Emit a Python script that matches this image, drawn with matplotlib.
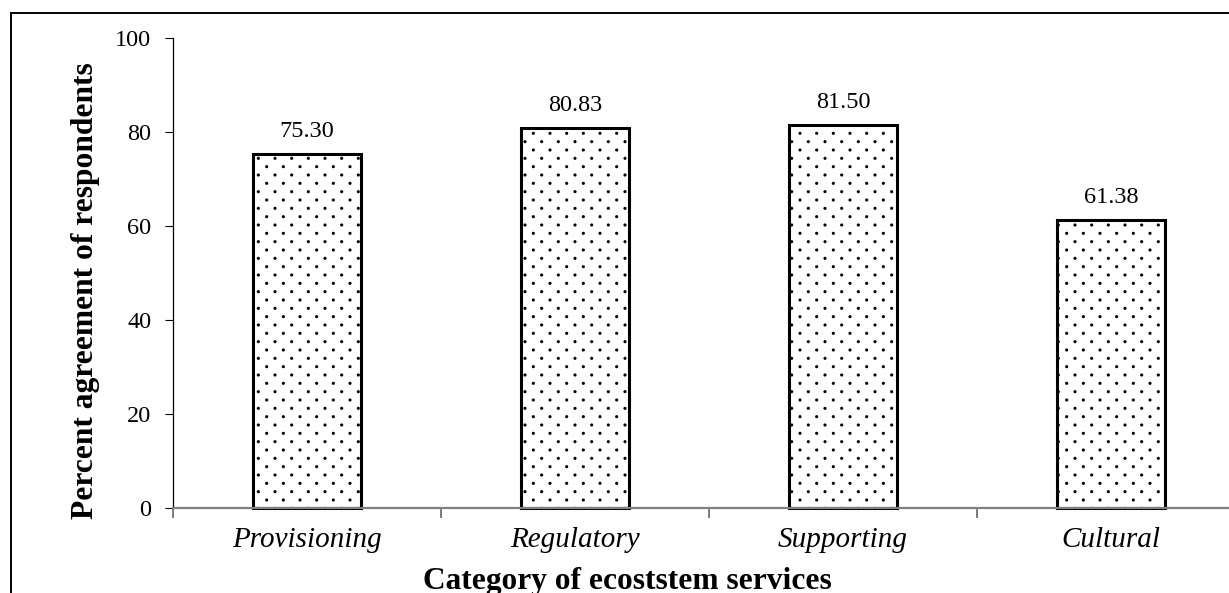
import matplotlib
matplotlib.use("Agg")
import numpy as np
import matplotlib.pyplot as plt
import matplotlib.hatch as mhatch
from matplotlib.path import Path
from matplotlib.lines import Line2D

categories = ["Provisioning", "Regulatory", "Supporting", "Cultural"]
values = [75.30, 80.83, 81.50, 61.38]
value_labels = ["75.30", "80.83", "81.50", "61.38"]
yticks = [0, 20, 40, 60, 80, 100]


# Dotted fill like the reference: staggered dots, wide in rows, close rows.
class StaggeredDots(mhatch.HatchPatternBase):
    n_cols = 6
    n_rows = 12
    radius = 0.0065

    def __init__(self, hatch, density):
        self.active = hatch.count('.') > 0
        circ = Path.unit_circle()
        self.shape_vertices = circ.vertices * self.radius
        self.shape_codes = circ.codes
        if self.active:
            n_shapes = 0
            for r in range(self.n_rows + 1):
                n_shapes += (self.n_cols + 1) if r % 2 == 0 else self.n_cols
            self.num_vertices = n_shapes * len(self.shape_vertices)
        else:
            self.num_vertices = 0

    def set_vertices_and_codes(self, vertices, codes):
        vparts, cparts = [], []
        for r in range(self.n_rows + 1):
            if r % 2 == 0:
                cols = np.arange(self.n_cols + 1) / self.n_cols
            else:
                cols = (np.arange(self.n_cols) + 0.5) / self.n_cols
            y = r / self.n_rows
            for c in cols:
                vparts.append(self.shape_vertices + [c, y])
                cparts.append(self.shape_codes)
        np.concatenate(vparts, out=vertices)
        np.concatenate(cparts, out=codes)


mhatch._hatch_types = [t for t in mhatch._hatch_types
                       if t is not mhatch.SmallFilledCircles] + [StaggeredDots]

plt.rcParams['font.family'] = ['Liberation Serif', 'DejaVu Serif']
plt.rcParams['hatch.linewidth'] = 1.3

W, H = 1229, 593
fig = plt.figure(figsize=(W / 100, H / 100), dpi=100)
ax = fig.add_axes([173 / W, (H - 508) / H, 1072 / W, 470 / H])

x = [i + 0.5 for i in range(len(categories))]
bars = ax.bar(x, values, width=0.40, facecolor='white', edgecolor='black',
              linewidth=2.2, hatch='.', clip_on=False)

for xi, v, lab in zip(x, values, value_labels):
    ax.annotate(lab, (xi, v), xytext=(0, 12), textcoords='offset points',
                ha='center', va='baseline', fontsize=17.5)

ax.set_xlim(0, len(categories))
ax.set_ylim(0, 100)
ax.set_yticks(yticks)
ax.set_yticklabels([str(t) for t in yticks], fontsize=17.5)
ax.tick_params(axis='y', direction='out', length=5.5, width=0.8, color='black', pad=10)

ax.set_xticks(range(len(categories) + 1))
ax.set_xticklabels([''] * (len(categories) + 1))
ax.tick_params(axis='x', which='major', direction='out', length=7, width=1.2, color='#666666')
ax.set_xticks(x, minor=True)
ax.set_xticklabels(categories, minor=True, fontsize=21, style='italic')
ax.tick_params(axis='x', which='minor', length=0, pad=14)

for s in ['top', 'right']:
    ax.spines[s].set_visible(False)
ax.spines['left'].set_color('black')
ax.spines['left'].set_linewidth(0.9)
ax.spines['bottom'].set_color('#808080')
ax.spines['bottom'].set_linewidth(1.6)

fig.text(627 / W, 1 - 567 / H, "Category of ecoststem services", ha='center', va='top',
         fontsize=22.6, fontweight='bold')
fig.text(86 / W, 1 - 291 / H, "Percent agreement of respondents", ha='center', va='center',
         rotation=90, fontsize=22.7, fontweight='bold')

# figure frame (top and left edges visible)
fig.add_artist(Line2D([11 / W, 11 / W], [0, 1 - 13 / H], transform=fig.transFigure,
                      color='black', linewidth=1.4))
fig.add_artist(Line2D([11 / W, 1], [1 - 13 / H, 1 - 13 / H], transform=fig.transFigure,
                      color='black', linewidth=1.4))

fig.savefig("out.png", dpi=100)
